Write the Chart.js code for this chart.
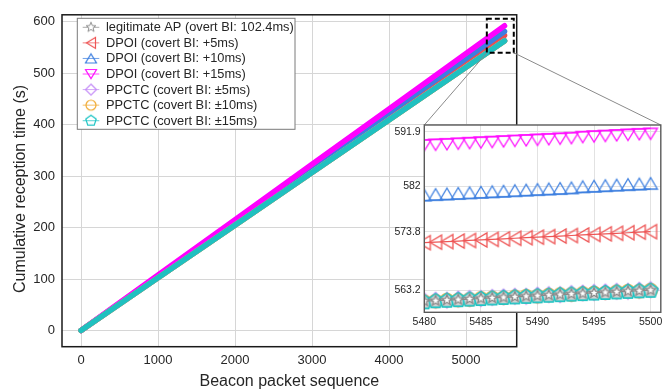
<!DOCTYPE html>
<html><head><meta charset="utf-8">
<script src="https://cdn.jsdelivr.net/npm/chart.js@4"></script>
<style>
html,body{margin:0;padding:0;background:#fff;}
#wrap{position:relative;width:668px;height:392px;}
canvas{position:absolute;left:0;top:0;}
</style>
</head><body>
<div id="wrap"><canvas id="main" width="668" height="392"></canvas><canvas id="inset" width="668" height="392"></canvas></div>
<script>
// ---------------- DATA ----------------
const seriesLabels = [
  'legitimate AP (overt BI: 102.4ms)',
  'DPOI (covert BI: +5ms)',
  'DPOI (covert BI: +10ms)',
  'DPOI (covert BI: +15ms)',
  'PPCTC (covert BI: \u00b15ms)',
  'PPCTC (covert BI: \u00b110ms)',
  'PPCTC (covert BI: \u00b115ms)'
];
const xTicksMain = [0, 1000, 2000, 3000, 4000, 5000];
const yTicksMain = [0, 100, 200, 300, 400, 500, 600];
const mainSeq     = [0, 1000, 2000, 3000, 4000, 5000, 5500];
const mainLegit   = [0, 102.4, 204.8, 307.2, 409.6, 512.0, 563.2];
const mainDPOI5   = [0, 104.3, 208.7, 313.0, 417.3, 521.6, 573.8];
const mainDPOI10  = [0, 105.8, 211.6, 317.4, 423.2, 529.0, 581.5];
const mainDPOI15  = [0, 107.7, 215.4, 323.1, 430.8, 538.5, 592.5];
const mainPPCTC5  = [0, 102.4, 204.9, 307.3, 409.7, 512.1, 563.3];
const mainPPCTC10 = [0, 102.4, 204.8, 307.1, 409.5, 511.9, 563.1];
const mainPPCTC15 = [0, 102.4, 204.8, 307.2, 409.5, 511.9, 563.1];

const insetSeq = [5480,5481,5482,5483,5484,5485,5486,5487,5488,5489,5490,5491,5492,5493,5494,5495,5496,5497,5498,5499,5500];
const insetLegit   = [561.2,561.3,561.4,561.5,561.6,561.7,561.8,561.9,562.0,562.1,562.2,562.3,562.4,562.5,562.6,562.7,562.8,562.9,563.0,563.1,563.2];
const insetDPOI5   = [571.8,571.9,572.0,572.1,572.2,572.3,572.4,572.5,572.6,572.7,572.8,572.9,573.0,573.1,573.2,573.3,573.4,573.5,573.6,573.7,573.8];
const insetDPOI10  = [579.4,579.5,579.6,579.7,579.8,579.9,580.0,580.1,580.2,580.3,580.4,580.5,580.6,580.7,580.9,581.0,581.1,581.2,581.3,581.4,581.5];
const insetDPOI15  = [590.4,590.5,590.6,590.7,590.8,590.9,591.0,591.1,591.2,591.3,591.4,591.5,591.6,591.7,591.9,592.0,592.1,592.2,592.3,592.4,592.5];
const insetPPCTC5  = [561.3,561.4,561.4,561.6,561.7,561.7,561.9,562.0,562.1,562.1,562.3,562.4,562.4,562.6,562.7,562.8,562.9,563.0,563.0,563.2,563.3];
const insetPPCTC10 = [561.1,561.2,561.4,561.4,561.5,561.7,561.8,561.8,562.0,562.1,562.1,562.3,562.4,562.4,562.6,562.7,562.7,562.9,563.0,563.0,563.2];
const insetPPCTC15 = [561.0,561.2,561.3,561.4,561.5,561.6,561.7,561.8,561.9,562.0,562.1,562.2,562.3,562.4,562.5,562.6,562.7,562.8,562.9,563.0,563.1];
const insetXTicks = [5480, 5485, 5490, 5495, 5500];
const insetYTicks = [563.2, 573.8, 582, 591.9];
const zoomBoxX = [5270, 5620];
const zoomBoxY = [540, 606];

// ---------------- STYLE ----------------
const FF = "'Liberation Sans', Arial, Helvetica, sans-serif";
const TXT = '#262626';
const colors = ['#8c8c8c', '#ee5555', '#3f80e0', '#ff10ff', '#c48cf7', '#f0aa32', '#1cc4c4'];
const bandColors = ['#8c8c8c', '#e85050', '#3c7ee2', '#ff00ff', '#c48cf7', '#f0aa32', '#20c0c0'];
const insetOrder = [0, 4, 4, 4, 3, 2, 1];

function makeMarker(kind, color, s, o) {
  o = o || {};
  const W = 30, H = 30;
  const c = document.createElement('canvas'); c.width = W; c.height = H;
  const g = c.getContext('2d');
  const cx = W / 2, cy = H / 2;
  g.strokeStyle = color; g.lineWidth = o.lw || 1.2; g.lineJoin = 'miter';
  g.beginPath();
  if (kind === 'circle') {
    g.arc(cx, cy, s, 0, 2 * Math.PI);
  } else {
    let pts = [];
    if (kind === 'star') {
      for (let i = 0; i < 10; i++) { const r = i % 2 ? s * 0.42 : s; const a = -Math.PI / 2 + i * Math.PI / 5; pts.push([cx + r * Math.cos(a), cy + r * Math.sin(a)]); }
    } else if (kind === 'pentagon') {
      for (let i = 0; i < 5; i++) { const a = -Math.PI / 2 + i * 2 * Math.PI / 5; pts.push([cx + s * Math.cos(a), cy + s * Math.sin(a)]); }
    } else if (kind === 'diamond') {
      pts = [[cx, cy - s], [cx + s, cy], [cx, cy + s], [cx - s, cy]];
    } else if (kind === 'triUpBase') {
      pts = [[cx - s, cy], [cx + s, cy], [cx, cy - o.h]];
    } else if (kind === 'triDownBase') {
      pts = [[cx - s, cy], [cx + s, cy], [cx, cy + o.h]];
    } else if (kind === 'triUp') {
      pts = [[cx - s, cy + o.h / 2], [cx + s, cy + o.h / 2], [cx, cy - o.h / 2]];
    } else if (kind === 'triDown') {
      pts = [[cx - s, cy - o.h / 2], [cx + s, cy - o.h / 2], [cx, cy + o.h / 2]];
    } else if (kind === 'triLeft') {
      pts = [[cx - o.w / 2, cy], [cx + o.w / 2, cy - s], [cx + o.w / 2, cy + s]];
    }
    g.moveTo(pts[0][0], pts[0][1]);
    for (let i = 1; i < pts.length; i++) g.lineTo(pts[i][0], pts[i][1]);
    g.closePath();
  }
  if (o.fill) { g.fillStyle = o.fill; g.fill(); }
  g.stroke();
  return c;
}

const insetMarkers = [
  makeMarker('star', '#8a8a8a', 5.4, { fill: '#ffffff', lw: 1.3 }),
  makeMarker('triLeft', colors[1], 7, { w: 12, lw: 1.3 }),
  makeMarker('triUpBase', colors[2], 6.8, { h: 11.5, lw: 1.3 }),
  makeMarker('triDownBase', colors[3], 6.8, { h: 11, lw: 1.3 }),
  makeMarker('diamond', colors[4], 7.8, { lw: 1.3 }),
  makeMarker('circle', colors[5], 6.6, { lw: 1.3 }),
  makeMarker('pentagon', colors[6], 7.6, { lw: 1.6, fill: '#d2d2d2' })
];
const legendMarkers = [
  makeMarker('star', '#8f8f8f', 5.2, { fill: '#ffffff', lw: 1 }),
  makeMarker('triLeft', colors[1], 5.5, { w: 9 }),
  makeMarker('triUp', colors[2], 5.5, { h: 9 }),
  makeMarker('triDown', colors[3], 5.5, { h: 9 }),
  makeMarker('diamond', colors[4], 5.5),
  makeMarker('circle', colors[5], 5),
  makeMarker('pentagon', colors[6], 5.5)
];

const mainSeries = [mainLegit, mainDPOI5, mainDPOI10, mainDPOI15, mainPPCTC5, mainPPCTC10, mainPPCTC15];
const insetSeries = [insetLegit, insetDPOI5, insetDPOI10, insetDPOI15, insetPPCTC5, insetPPCTC10, insetPPCTC15];

// ---------------- MAIN CHART ----------------
const mainPlugin = {
  id: 'mainDecor',
  afterDatasetsDraw(chart) {
    const { ctx, chartArea: a, scales: { x, y } } = chart;
    ctx.save();
    ctx.strokeStyle = '#1a1a1a'; ctx.lineWidth = 1.5;
    ctx.strokeRect(a.left, a.top, a.right - a.left, a.bottom - a.top);
    const bx1 = x.getPixelForValue(zoomBoxX[0]), bx2 = x.getPixelForValue(zoomBoxX[1]);
    const by1 = y.getPixelForValue(zoomBoxY[1]), by2 = y.getPixelForValue(zoomBoxY[0]);
    ctx.setLineDash([5, 3]); ctx.lineWidth = 2; ctx.strokeStyle = '#000';
    ctx.strokeRect(bx1, by1, bx2 - bx1, by2 - by1);
    ctx.setLineDash([]);
    const L = 77.3, T = 18.3, R = 295, B = 129.3;
    ctx.fillStyle = '#fff'; ctx.fillRect(L, T, R - L, B - T);
    ctx.strokeStyle = '#7a7a7a'; ctx.lineWidth = 1; ctx.strokeRect(L, T, R - L, B - T);
    ctx.font = '12.8px ' + FF; ctx.textBaseline = 'middle'; ctx.textAlign = 'left';
    seriesLabels.forEach((lab, i) => {
      const cy = 27.3 + i * 15.57;
      ctx.strokeStyle = colors[i]; ctx.globalAlpha = 0.75; ctx.lineWidth = 1;
      ctx.beginPath(); ctx.moveTo(82.7, cy); ctx.lineTo(99.3, cy); ctx.stroke();
      ctx.globalAlpha = 1;
      const m = legendMarkers[i];
      ctx.drawImage(m, 91 - m.width / 2, cy - m.height / 2);
      ctx.fillStyle = TXT; ctx.fillText(lab, 106, cy + 0.5);
    });
    ctx.translate(21, 189); ctx.rotate(-Math.PI / 2);
    ctx.font = '16px ' + FF; ctx.textAlign = 'center'; ctx.fillStyle = TXT;
    ctx.fillText('Cumulative reception time (s)', 0, 0);
    ctx.restore();
  }
};

const mainChart = new Chart(document.getElementById('main'), {
  type: 'line',
  data: {
    datasets: mainSeries.map((vals, i) => ({
      label: seriesLabels[i],
      data: mainSeq.map((s, k) => ({ x: s, y: vals[k] })),
      borderColor: bandColors[i], borderWidth: 5.5, borderCapStyle: 'round', borderJoinStyle: 'round',
      pointRadius: 0, fill: false, tension: 0, order: 6 - i
    }))
  },
  options: {
    responsive: false, animation: false, events: [],
    layout: { padding: { left: 0, right: 151.3, top: 6, bottom: 0 } },
    scales: {
      x: {
        type: 'linear', min: -247, max: 5658,
        afterBuildTicks: s => { s.ticks = xTicksMain.map(v => ({ value: v })); },
        afterFit: s => { s.height = 45.3; },
        grid: { color: '#d6d6d6', lineWidth: 1, drawTicks: false },
        border: { display: false },
        ticks: { padding: 5.5, color: TXT, font: { family: FF, size: 13 }, callback: v => String(v), maxRotation: 0, autoSkip: false },
        title: { display: true, text: 'Beacon packet sequence', color: TXT, font: { family: FF, size: 16 }, padding: { top: 0, bottom: 1 } }
      },
      y: {
        type: 'linear', min: -31.6, max: 613.8,
        afterBuildTicks: s => { s.ticks = yTicksMain.map(v => ({ value: v })); },
        afterFit: s => { s.width = 62; },
        grid: { color: '#d6d6d6', lineWidth: 1, drawTicks: false },
        border: { display: false },
        ticks: { padding: 7, color: TXT, font: { family: FF, size: 13 }, callback: v => String(v), autoSkip: false }
      }
    },
    plugins: { legend: { display: false }, tooltip: { enabled: false } }
  },
  plugins: [mainPlugin]
});

// ---------------- INSET CHART ----------------
const insetPlugin = {
  id: 'insetDecor',
  beforeDraw(chart) {
    const { ctx, chartArea: a } = chart;
    ctx.save(); ctx.fillStyle = '#fff';
    ctx.fillRect(a.left, a.top, a.right - a.left, a.bottom - a.top);
    ctx.restore();
  },
  afterDraw(chart) {
    const { ctx, chartArea: a } = chart;
    const mx = mainChart.scales.x, my = mainChart.scales.y;
    const bx1 = mx.getPixelForValue(zoomBoxX[0]), bx2 = mx.getPixelForValue(zoomBoxX[1]);
    const by2 = my.getPixelForValue(zoomBoxY[0]);
    ctx.save();
    ctx.strokeStyle = '#8a8a8a'; ctx.lineWidth = 1;
    ctx.beginPath(); ctx.moveTo(bx1, by2); ctx.lineTo(a.left, a.top); ctx.stroke();
    ctx.beginPath(); ctx.moveTo(bx2, by2); ctx.lineTo(a.right, a.top); ctx.stroke();
    ctx.strokeStyle = '#5a5a5a'; ctx.lineWidth = 1.4;
    ctx.strokeRect(a.left, a.top, a.right - a.left, a.bottom - a.top);
    ctx.restore();
  }
};

new Chart(document.getElementById('inset'), {
  type: 'line',
  data: {
    datasets: insetSeries.map((vals, i) => ({
      label: seriesLabels[i],
      data: insetSeq.map((s, k) => ({ x: s, y: vals[k] })),
      borderColor: colors[i], borderWidth: 1.2, fill: false, tension: 0,
      pointStyle: insetMarkers[i], pointRadius: 6, clip: 0, order: insetOrder[i]
    }))
  },
  options: {
    responsive: false, animation: false, events: [],
    layout: { padding: { left: 380, right: 7, top: 125, bottom: 59.7 } },
    scales: {
      x: {
        type: 'linear', min: 5480, max: 5500.9,
        afterBuildTicks: s => { s.ticks = insetXTicks.map(v => ({ value: v })); },
        afterFit: s => { s.height = 20; },
        grid: { color: '#e2e2e2', drawTicks: false },
        border: { display: false },
        ticks: { padding: 3.1, color: TXT, font: { family: FF, size: 10.5 }, callback: v => String(v), maxRotation: 0, autoSkip: false }
      },
      y: {
        type: 'linear', min: 559.2, max: 593.1,
        afterBuildTicks: s => { s.ticks = insetYTicks.map(v => ({ value: v })); },
        afterFit: s => { s.width = 44.3; },
        grid: { color: '#e2e2e2', drawTicks: false },
        border: { display: false },
        ticks: { padding: 3.6, color: TXT, font: { family: FF, size: 10.5 }, callback: v => String(v), autoSkip: false }
      }
    },
    plugins: { legend: { display: false }, tooltip: { enabled: false } }
  },
  plugins: [insetPlugin]
});
</script>
</body></html>
